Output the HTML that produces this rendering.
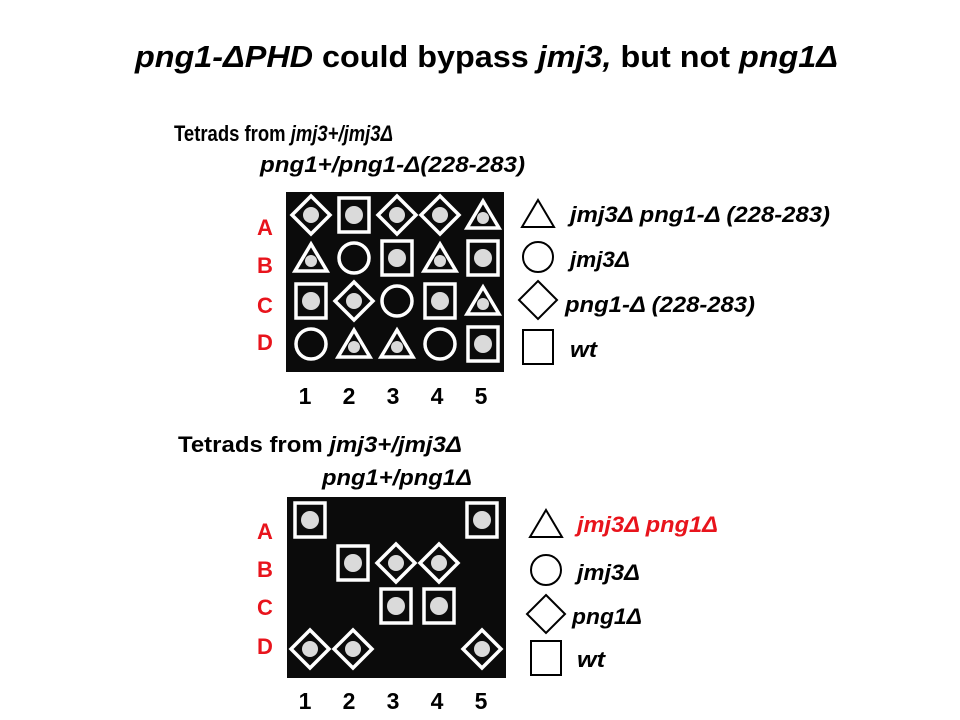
<!DOCTYPE html>
<html><head><meta charset="utf-8"><style>
html,body{margin:0;padding:0;background:#fff;}
svg{display:block;font-family:"Liberation Sans",sans-serif;font-weight:bold;}
</style></head><body>
<svg id="s" width="960" height="720">
<text x="135" y="67" font-size="31" textLength="703" lengthAdjust="spacingAndGlyphs"><tspan font-style="italic">png1-ΔPHD</tspan> could bypass <tspan font-style="italic">jmj3,</tspan> but not <tspan font-style="italic">png1Δ</tspan></text>
<text x="174" y="141" font-size="22" textLength="219" lengthAdjust="spacingAndGlyphs">Tetrads from <tspan font-style="italic">jmj3+/jmj3Δ</tspan></text>
<text x="260" y="172" font-size="22" font-style="italic" textLength="265" lengthAdjust="spacingAndGlyphs">png1+/png1-Δ(228-283)</text>
<text x="178" y="452" font-size="22" textLength="284" lengthAdjust="spacingAndGlyphs">Tetrads from <tspan font-style="italic">jmj3+/jmj3Δ</tspan></text>
<text x="322" y="485" font-size="22" font-style="italic" textLength="150" lengthAdjust="spacingAndGlyphs">png1+/png1Δ</text>
<g id="g"></g>
</svg>
<script>
const rows=['A','B','C','D'];
const cols=['1','2','3','4','5'];
// genotype per spot: t=triangle, c=circle (no growth), d=diamond, s=square, n=none
const topGeno=[['d','s','d','d','t'],['t','c','s','t','s'],['s','d','c','s','t'],['c','t','t','c','s']];
const botGeno=[['s','n','n','n','s'],['n','s','d','d','n'],['n','n','s','s','n'],['d','d','n','n','d']];
const topLegend=[['t','jmj3Δ png1-Δ (228-283)'],['c','jmj3Δ'],['d','png1-Δ (228-283)'],['s','wt']];
const botLegend=[['t','jmj3Δ png1Δ'],['c','jmj3Δ'],['d','png1Δ'],['s','wt']];
const NS='http://www.w3.org/2000/svg';
const g=document.getElementById('g');
function mk(tag,at,parent){const e=document.createElementNS(NS,tag);for(const k in at)e.setAttribute(k,at[k]);(parent||g).appendChild(e);return e;}
function shape(type,cx,cy,stroke,sw,parent){
  let e;
  if(type==='s')e=mk('rect',{x:cx-15,y:cy-17,width:30,height:34,fill:'none',stroke:stroke,'stroke-width':sw},parent);
  else if(type==='c')e=mk('circle',{cx:cx,cy:cy,r:15,fill:'none',stroke:stroke,'stroke-width':sw},parent);
  else if(type==='d')e=mk('polygon',{points:`${cx},${cy-19} ${cx+19},${cy} ${cx},${cy+19} ${cx-19},${cy}`,fill:'none',stroke:stroke,'stroke-width':sw},parent);
  else e=mk('polygon',{points:`${cx},${cy-14} ${cx+16},${cy+13} ${cx-16},${cy+13}`,fill:'none',stroke:stroke,'stroke-width':sw},parent);
  return e;
}
function plate(geno,x0,y0,w,h,cx0,cy0,name){
  const p=mk('g',{});
  
  
  const bg=mk('rect',{x:x0,y:y0,width:w,height:h,fill:'#0b0b0b'},p);
  
  
  geno.forEach((r,i)=>r.forEach((t,j)=>{
    if(t==='n')return;
    const cx=cx0+j*43,cy=cy0+i*43;
    if(t!=='c'){
      const rr=t==='t'?6:(t==='s'?9:8);
      const dy=t==='t'?3:0;
      const col=mk('circle',{cx:cx,cy:cy+dy,r:rr,fill:'#dadada'},p);
      
      
    }
    const s=shape(t,cx,cy,'#fff',3.5,p);
    
    
  }));
}
plate(topGeno,286,192,218,180,311,215,'top-plate');
plate(botGeno,287,497,219,181,310,520,'bottom-plate');
function labels(rowY,numY,name){
  rows.forEach((r,i)=>{const t=mk('text',{x:265,y:rowY[i],'font-size':22,fill:'#e8141c','text-anchor':'middle'});t.textContent=r;
    
    });
  cols.forEach((c,j)=>{const t=mk('text',{x:305+j*44,y:numY,'font-size':23,fill:'#000','text-anchor':'middle'});t.textContent=c;
    
    });
}
labels([235,273,313,350],404,'top');
labels([539,577,615,654],709,'bottom');
function legend(items,sx,sy,tx,ty,widths,red,name){
  items.forEach((it,i)=>{
    const s=shape(it[0],sx,sy[i],'#000',2,null);
    
    
    const t=mk('text',{x:tx[i],y:ty[i],'font-size':22,'font-style':'italic',fill:(red&&i===0)?'#e8141c':'#000',textLength:widths[i],lengthAdjust:'spacingAndGlyphs'});
    t.textContent=it[1];
    
    
  });
}
legend(topLegend,538,[214,257,300,347],[570,570,565,570],[222,267,312,357],[260,60,190,27],false,'top');
legend(botLegend,546,[524,570,614,658],[577,577,572,577],[532,580,624,667],[141,63,70,28],true,'bottom');
</script>
</body></html>
